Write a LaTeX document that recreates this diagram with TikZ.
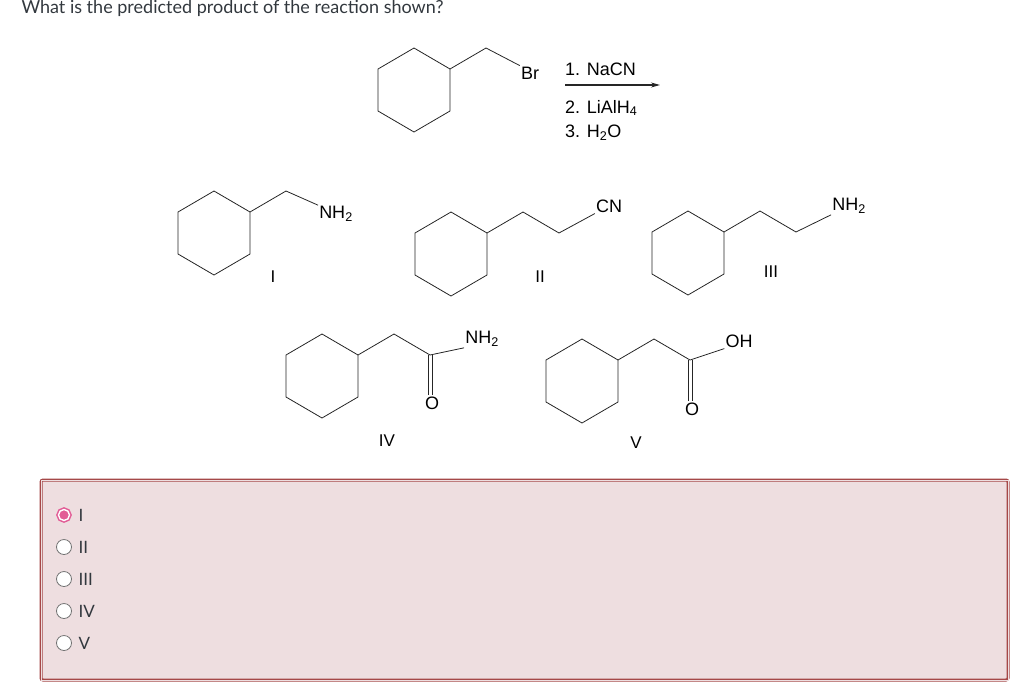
\documentclass[tikz,border=0pt]{standalone}
\usepackage{fontspec}
\usetikzlibrary{arrows.meta}
\setmainfont{Liberation Sans}
\newfontfamily\latofont{Lato}
\definecolor{boxred}{RGB}{165,72,72}
\definecolor{boxfill}{RGB}{238,222,224}
\definecolor{txtgray}{RGB}{50,56,62}
\definecolor{pinksel}{RGB}{226,92,150}
\begin{document}
\begin{tikzpicture}[x=1pt,y=-1pt,>=stealth,
    bond/.style={draw=black!85,line width=0.8pt},
    atom/.style={inner sep=1pt,font=\fontsize{18}{18}\selectfont},
    lbl/.style={font=\fontsize{17}{17}\selectfont},
    radio/.style={circle,draw=black!55,fill=white,line width=0.8pt,minimum size=15pt,inner sep=0pt},
    choice/.style={anchor=west,text=txtgray,font=\latofont\fontsize{17}{17}\selectfont}]
  \useasboundingbox (0,0) rectangle (1024,688);
  \def\hexring#1{\draw[bond] (#1) ++(36,-21) -- ++(0,42) -- ++(-36,21) -- ++(-36,-21) -- ++(0,-42) -- ++(36,-21) -- cycle;}
  % question
  \node[anchor=west,text=txtgray,font=\latofont\fontsize{18}{18}\selectfont] (q) at (18,8) {What is the predicted product of the reaction shown?};
  % starting material
  \coordinate (s0) at (414,90);
  \hexring{s0}
  \node[atom] (br) at (530,73) {Br};
  \draw[bond] (450,69) -- (486,48) -- (br.north west);
  \coordinate (ra) at (565,85);
  \coordinate (rb) at (660,85);
  \draw[-{Stealth[length=9pt,width=5pt]},bond,line width=1.2pt] (ra) -- (rb);
  \node[atom,anchor=west] (r1) at (564,69) {1. NaCN};
  \node[atom,anchor=west] (r2) at (564,108) {2. LiAlH\textsubscript{4}};
  \node[atom,anchor=west] (r3) at (564,133) {3. H\textsubscript{2}O};
  % I
  \coordinate (c1) at (214,233);
  \hexring{c1}
  \node[atom] (n1) at (336,214) {NH\textsubscript{2}};
  \draw[bond] (250,212) -- (286,191) -- (n1.north west);
  \node[lbl] (l1) at (273,277) {I};
  % II
  \coordinate (c2) at (451,254);
  \hexring{c2}
  \node[atom] (cn) at (609,206) {CN};
  \draw[bond] (487,233) -- (523,212) -- (559,233) -- (cn.south west);
  \node[lbl] (l2) at (540,277) {II};
  % III
  \coordinate (c3) at (688,253);
  \hexring{c3}
  \node[atom] (n3) at (849,206) {NH\textsubscript{2}};
  \draw[bond] (724,232) -- (760,211) -- (796,232) -- (n3.south west);
  \node[lbl] (l3) at (771,272) {III};
  % IV
  \coordinate (c4) at (322,376);
  \hexring{c4}
  \node[atom] (n4) at (482,339) {NH\textsubscript{2}};
  \node[atom] (o4) at (432,403) {O};
  \draw[bond] (358,355) -- (394,334) -- (430,355) -- (n4.south west);
  \draw[bond] (428,355) -- (o4.north west -| 428,0);
  \draw[bond] (432,355) -- (o4.north east -| 432,0);
  \node[lbl] (l4) at (387,441) {IV};
  % V
  \coordinate (c5) at (582,381);
  \hexring{c5}
  \node[atom] (oh) at (739,341) {OH};
  \node[atom] (o5) at (692,409) {O};
  \draw[bond] (618,360) -- (654,339) -- (690,360) -- (oh.south west);
  \draw[bond] (688,360) -- (o5.north west -| 688,0);
  \draw[bond] (692,360) -- (o5.north east -| 692,0);
  \node[lbl] (l5) at (636,443) {V};
  % answer box
  \draw[boxred,fill=boxfill,line width=3pt,rounded corners=2pt] (41,480) rectangle (1008,680);
  \draw[boxfill,line width=0.8pt] (41,480) rectangle (1008,680);
  \node[radio,draw=pinksel,fill=pinksel,line width=1.5pt,double=white,double distance=1.4pt,minimum size=11pt] (o1) at (64,515) {};
  \node[choice] (t1) at (75,515) {I};
  \node[radio] (o2) at (64,547) {};
  \node[choice] (t2) at (75,547) {II};
  \node[radio] (o3) at (64,579) {};
  \node[choice] (t3) at (75,579) {III};
  \node[radio] (o4r) at (64,611) {};
  \node[choice] (t4) at (75,611) {IV};
  \node[radio] (o5r) at (64,643) {};
  \node[choice] (t5) at (75,643) {V};
\end{tikzpicture}
\end{document}
